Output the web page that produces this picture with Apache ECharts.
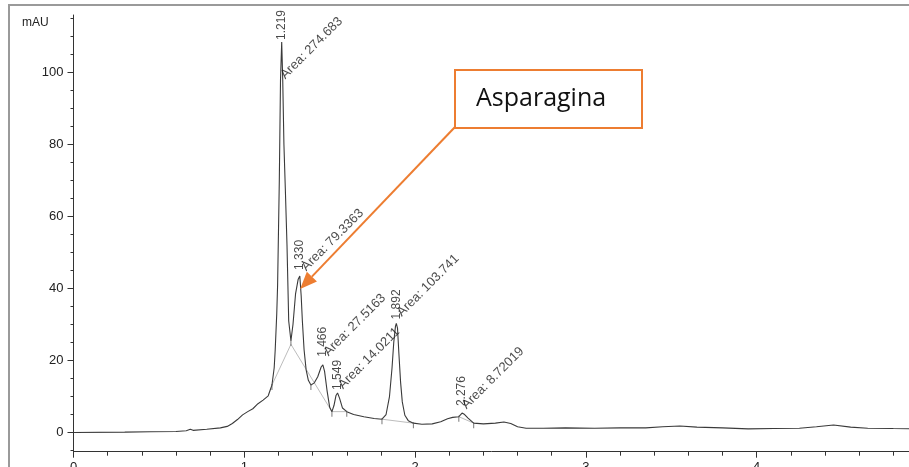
<!DOCTYPE html>
<html><head><meta charset="utf-8">
<script src="https://cdn.jsdelivr.net/npm/echarts@6/dist/echarts.min.js"></script>
<style>html,body{margin:0;padding:0;background:#fff}#c{width:909px;height:467px}</style>
</head><body><div id="c"></div>
<script>
// ---- data (retention time in min, signal in mAU) ----
const retentionTime = [0, 0.3, 0.45, 0.6, 0.66, 0.684, 0.70, 0.78, 0.86, 0.9, 0.93, 0.96, 0.99, 1.02, 1.05, 1.08, 1.11, 1.14, 1.162, 1.175, 1.181, 1.19, 1.195, 1.205, 1.212, 1.219, 1.225, 1.232, 1.24, 1.25, 1.26, 1.273, 1.285, 1.30, 1.315, 1.325, 1.333, 1.34, 1.35, 1.362, 1.375, 1.39, 1.41, 1.43, 1.45, 1.46, 1.47, 1.484, 1.50, 1.513, 1.525, 1.537, 1.546, 1.558, 1.575, 1.60, 1.64, 1.70, 1.76, 1.806, 1.83, 1.85, 1.865, 1.875, 1.885, 1.890, 1.897, 1.905, 1.915, 1.925, 1.94, 1.96, 1.99, 2.04, 2.10, 2.15, 2.19, 2.22, 2.256, 2.275, 2.29, 2.31, 2.343, 2.40, 2.47, 2.52, 2.56, 2.60, 2.65, 2.75, 2.88, 3.05, 3.2, 3.35, 3.45, 3.55, 3.65, 3.8, 3.95, 4.1, 4.25, 4.35, 4.45, 4.55, 4.65, 4.8, 5.0];
const absorbance = [0.0, 0.1, 0.2, 0.3, 0.5, 0.9, 0.6, 0.9, 1.3, 1.7, 2.5, 3.6, 4.9, 5.8, 6.6, 8.0, 9.0, 10.2, 13.2, 18, 23, 33, 41, 70, 98, 108.5, 98, 80, 68, 52, 31, 25.5, 30, 38.5, 42.5, 43.5, 38, 31, 23, 17.4, 14.5, 13.2, 13.8, 15.5, 18.2, 18.8, 17, 11.8, 7, 5.8, 7.5, 10.3, 11, 9.5, 6.8, 5.8, 5.0, 4.4, 3.9, 3.7, 5, 10, 18, 25, 29.5, 30.3, 29, 22, 14, 8.5, 4.8, 3.3, 2.6, 2.3, 2.4, 3.0, 3.8, 4.2, 4.4, 5.4, 5.0, 4.0, 2.6, 2.4, 2.6, 2.9, 2.5, 1.6, 1.2, 1.2, 1.3, 1.2, 1.3, 1.3, 1.6, 1.8, 1.5, 1.3, 1.0, 1.1, 1.2, 1.6, 2.1, 1.5, 1.2, 1.1, 1.0];

const peakTimes = [1.219, 1.330, 1.466, 1.549, 1.892, 2.276];
const peakApexTime = [1.219, 1.325, 1.46, 1.546, 1.890, 2.275];
const peakApexHeight = [108.5, 43.5, 18.8, 11, 30.3, 5.4];
const peakAreas = ['274.683', '79.3363', '27.5163', '14.0211', '103.741', '8.72019'];

const baselineTime = [1.162, 1.273, 1.513, null, 1.513, 1.60, null, 1.806, 1.99, null, 2.256, 2.343];
const baselineValue = [13.2, 24.5, 5.8, null, 5.8, 5.8, null, 3.7, 2.6, null, 4.4, 2.6];

const eventTime = [1.162, 1.273, 1.39, 1.513, 1.60, 1.806, 1.99, 2.256, 2.343];
const eventValue = [13.2, 25.5, 13.2, 5.8, 5.8, 3.7, 2.6, 4.4, 2.6];

const yMajorTicks = [0, 20, 40, 60, 80, 100];
const yMinorTicks = [-5, 5, 10, 15, 25, 30, 35, 45, 50, 55, 65, 70, 75, 85, 90, 95, 105, 110, 115];
const annotationText = 'Asparagina';
const annotationTarget = [1.327, 39.9];

// ---- layout / style (not data) ----
const timeLabelGap = [-2, -6, -8, -3, -4, -7];
const areaLabelOffset = [[1, 35], [4, -7], [3, -11], [3, -6], [3, -9], [2, -6]];
const FONT = '"Liberation Sans", Arial, sans-serif';

const chart = echarts.init(document.getElementById('c'), null, {renderer: 'canvas'});

const curve = retentionTime.map((t, i) => [t, absorbance[i]]);
const baselineSeries = [];
let seg = [];
baselineTime.forEach((t, i) => {
  if (t === null) { if (seg.length) baselineSeries.push(seg); seg = []; }
  else seg.push([t, baselineValue[i]]);
});
if (seg.length) baselineSeries.push(seg);

const series = [];
baselineSeries.forEach(s => series.push({
  type: 'line', data: s, symbol: 'none', silent: true, z: 1,
  lineStyle: {color: '#bdbdbd', width: 1}
}));
series.push({
  type: 'line', data: curve, symbol: 'none', silent: true, z: 3,
  lineStyle: {color: '#3a3a3a', width: 1.1}
});
series.push({
  type: 'scatter', silent: true, z: 4,
  data: eventTime.map((t, i) => [t, eventValue[i]]),
  symbol: 'rect', symbolSize: [1, 6], symbolOffset: [0, 2],
  itemStyle: {color: '#555'}
});
series.push({
  type: 'scatter', silent: true, z: 5, symbolSize: 2,
  itemStyle: {color: 'rgba(0,0,0,0)'},
  data: peakApexTime.map((t, i) => ({
    value: [t, peakApexHeight[i]],
    label: {position: [1, 1 + timeLabelGap[i]]}
  })),
  label: {
    show: true, rotate: 90, align: 'left', verticalAlign: 'middle',
    color: '#1a1a1a', fontSize: 12, fontFamily: FONT,
    formatter: p => peakTimes[p.dataIndex].toFixed(3)
  }
});
series.push({
  type: 'scatter', silent: true, z: 5, symbolSize: 2,
  itemStyle: {color: 'rgba(0,0,0,0)'},
  data: peakApexTime.map((t, i) => ({
    value: [t, peakApexHeight[i]],
    label: {position: [1 + areaLabelOffset[i][0], 1 + areaLabelOffset[i][1]]}
  })),
  label: {
    show: true, rotate: 45, align: 'left', verticalAlign: 'middle',
    color: '#1a1a1a', fontSize: 13, fontFamily: FONT,
    formatter: p => 'Area: ' + peakAreas[p.dataIndex]
  }
});

const axisColor = '#333';
chart.setOption({
  animation: false,
  backgroundColor: '#fff',
  grid: {left: 73.5, right: -18.5, top: 15, bottom: 15.3, containLabel: false, outerBoundsMode: 'none'},
  xAxis: {
    type: 'value', min: 0, max: 5, interval: 1,
    axisLine: {show: true, onZero: false, lineStyle: {color: axisColor, width: 1}},
    axisTick: {show: true, length: 6, lineStyle: {color: axisColor}},
    minorTick: {show: true, splitNumber: 5, length: 4, lineStyle: {color: axisColor}},
    axisLabel: {fontSize: 13, color: '#222', margin: 9, fontFamily: FONT},
    splitLine: {show: false}, minorSplitLine: {show: false}
  },
  yAxis: [{
    type: 'value', min: -5.33, max: 116, position: 'left',
    axisLine: {show: true, lineStyle: {color: axisColor, width: 1}},
    axisTick: {show: true, length: 6, customValues: yMajorTicks, lineStyle: {color: axisColor}},
    axisLabel: {customValues: yMajorTicks, fontSize: 13, color: '#222', margin: 10, fontFamily: FONT},
    splitLine: {show: false}
  }, {
    type: 'value', min: -5.33, max: 116, position: 'left', offset: 0,
    axisLine: {show: false},
    axisTick: {show: true, length: 3, customValues: yMinorTicks, lineStyle: {color: axisColor}},
    axisLabel: {show: false},
    splitLine: {show: false}
  }],
  series: series
});

// annotation (box + arrow pointing at the Asparagina peak)
const tip = chart.convertToPixel({gridIndex: 0}, annotationTarget);
const box = {x: 455, y: 70, w: 187, h: 58};
const start = [box.x, box.y + box.h - 1];
const dx = tip[0] - start[0], dy = tip[1] - start[1];
const len = Math.sqrt(dx * dx + dy * dy);
const ux = dx / len, uy = dy / len;
const headLen = 17, headHalf = 7;
const base = [tip[0] - headLen * ux, tip[1] - headLen * uy];
const nx = -uy, ny = ux;
chart.setOption({
  graphic: [
    {type: 'rect', z: 100, silent: true, shape: {x: 9, y: 5, width: 1000, height: 600},
     style: {fill: 'none', stroke: '#9a9a9a', lineWidth: 2}},
    {type: 'text', z: 100, silent: true, x: 22, y: 23,
     style: {text: 'mAU', font: '12px ' + FONT, fill: '#222', verticalAlign: 'middle'}},
    {type: 'line', z: 100, silent: true,
     shape: {x1: start[0], y1: start[1], x2: base[0], y2: base[1]},
     style: {stroke: '#ED7D31', lineWidth: 2}},
    {type: 'polygon', z: 100, silent: true,
     shape: {points: [tip, [base[0] + headHalf * nx, base[1] + headHalf * ny], [base[0] - headHalf * nx, base[1] - headHalf * ny]]},
     style: {fill: '#ED7D31'}},
    {type: 'rect', z: 100, silent: true, shape: {x: box.x, y: box.y, width: box.w, height: box.h},
     style: {fill: '#fff', stroke: '#ED7D31', lineWidth: 2}},
    {type: 'text', z: 101, silent: true, x: 476, y: 99,
     style: {text: annotationText, font: '25px "Open Sans", sans-serif', fill: '#111', verticalAlign: 'middle'}}
  ]
});
</script>
</body></html>
